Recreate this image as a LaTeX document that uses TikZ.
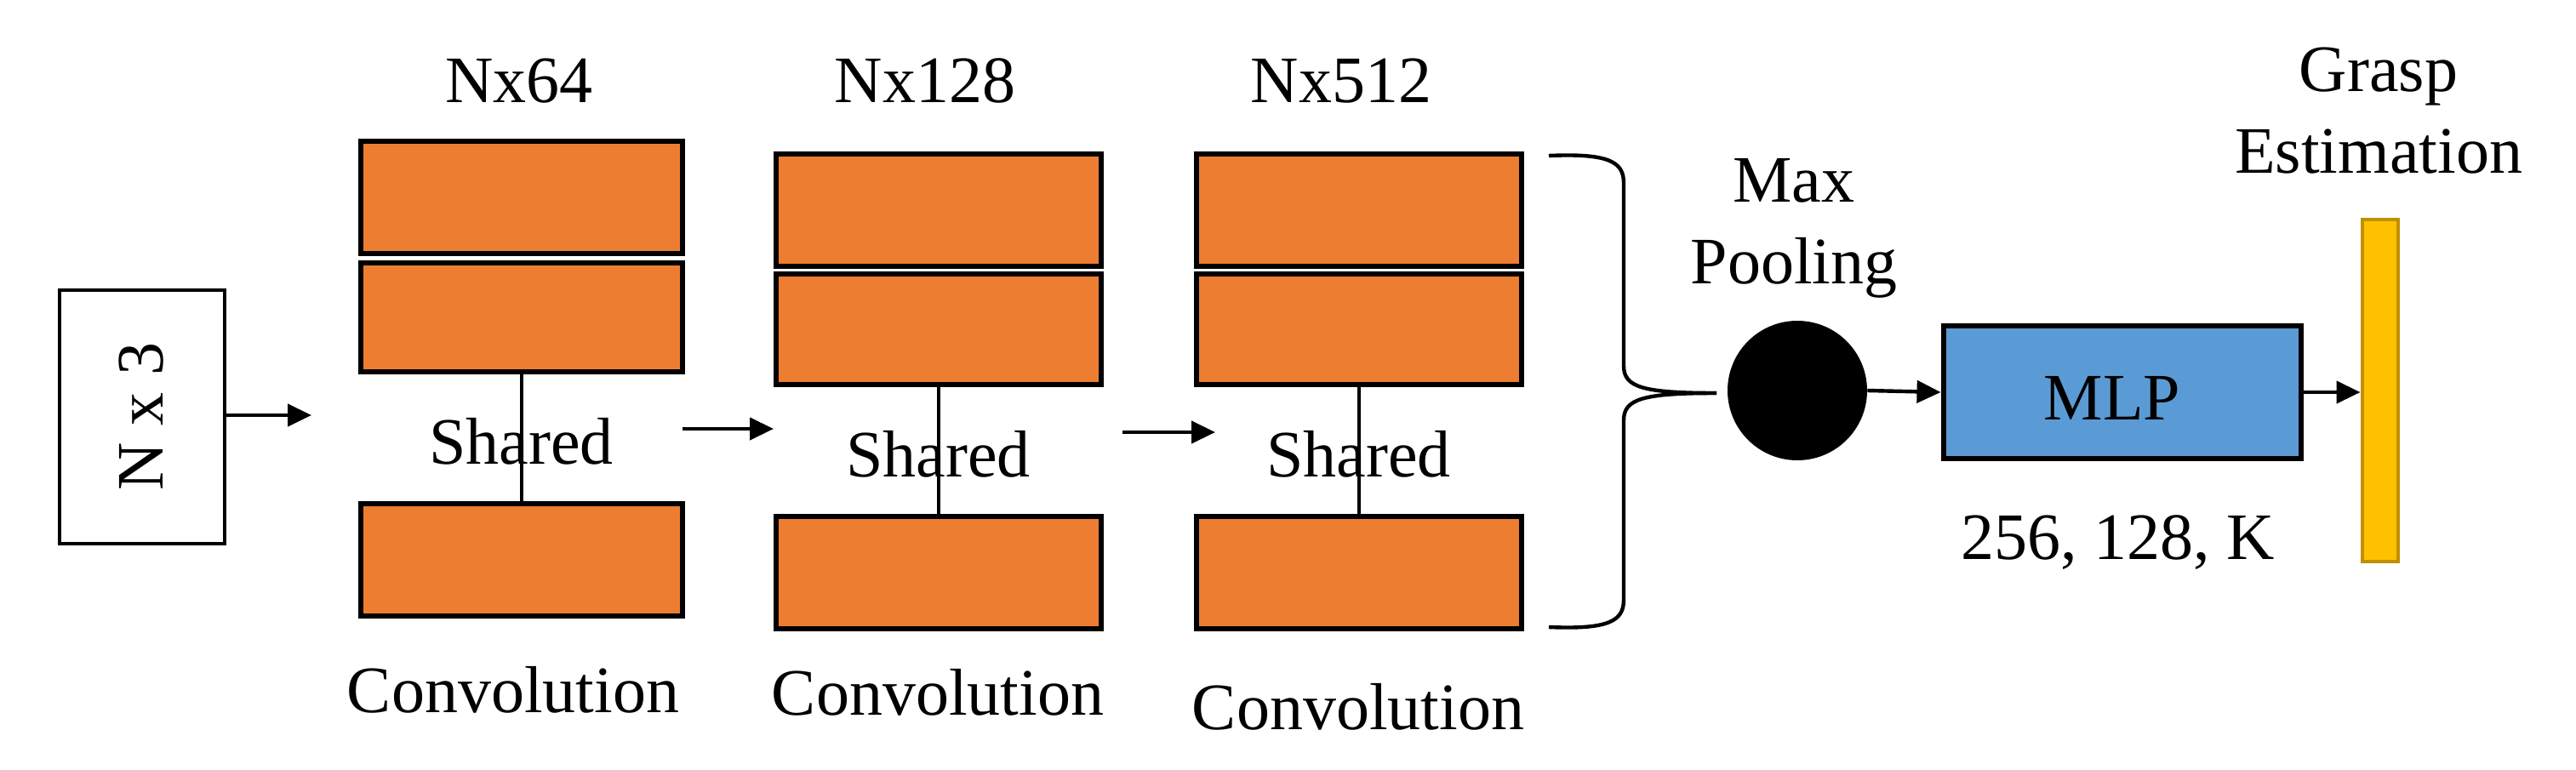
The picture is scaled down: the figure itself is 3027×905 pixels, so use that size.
\documentclass[tikz,border=0pt]{standalone}
\usepackage{fontspec}
\setmainfont{Liberation Serif}
\usetikzlibrary{arrows.meta}
\definecolor{org}{HTML}{ED7D31}
\definecolor{blu}{HTML}{5B9BD5}
\definecolor{yel}{HTML}{FFC000}
\definecolor{yelb}{HTML}{BF9000}
\begin{document}
\begin{tikzpicture}[x=0.5pt,y=-0.5pt,
  lbl/.style={font=\fontsize{39}{44}\selectfont, inner sep=0pt, align=center},
  blk/.style={draw, fill=org, line width=3pt, inner sep=0pt, outer sep=0pt},
  arr/.style={line width=2.2pt, -{Triangle[length=14pt,width=13pt]}},
  con/.style={line width=2pt}]
\useasboundingbox (0,0) rectangle (3027,905);
% input
\node[draw, line width=2pt, minimum width=97pt, minimum height=149pt, inner sep=0pt] (in) at (166.5,489.5) {};
\node[lbl, rotate=90] (intxt) at (166.5,489.5) {N x 3};
% block 1
\node[blk, minimum width=189pt, minimum height=66pt] (a1) at (612.5,232) {};
\node[blk, minimum width=189pt, minimum height=64pt] (a2) at (612.5,372.5) {};
\node[blk, minimum width=189pt, minimum height=66pt] (a3) at (612.5,657.5) {};
\draw[con] (a2.south) -- (a3.north);
\node[lbl] (s1) at (612.5,519) {Shared};
\node[lbl] (t1) at (610,95) {Nx64};
\node[lbl] (c1) at (603,811) {Convolution};
% block 2
\node[blk, minimum width=191pt, minimum height=66pt] (b1) at (1102.5,247) {};
\node[blk, minimum width=191pt, minimum height=65pt] (b2) at (1102.5,387) {};
\node[blk, minimum width=191pt, minimum height=66pt] (b3) at (1102.5,672.5) {};
\draw[con] (b2.south) -- (b3.north);
\node[lbl] (s2) at (1102.5,534) {Shared};
\node[lbl] (t2) at (1087,95) {Nx128};
\node[lbl] (c2) at (1102,814) {Convolution};
% block 3
\node[blk, minimum width=191pt, minimum height=66pt] (d1) at (1596.5,247) {};
\node[blk, minimum width=191pt, minimum height=65pt] (d2) at (1596.5,387) {};
\node[blk, minimum width=191pt, minimum height=66pt] (d3) at (1596.5,672.5) {};
\draw[con] (d2.south) -- (d3.north);
\node[lbl] (s3) at (1596.5,534) {Shared};
\node[lbl] (t3) at (1576,95) {Nx512};
\node[lbl] (c3) at (1596,831) {Convolution};
% arrows between blocks
\coordinate (p1) at (264,488);
\coordinate (p2) at (366,488);
\draw[arr] (in.east |- p1) -- (p2);
\coordinate (q1) at (802,504);
\coordinate (q2) at (909,504);
\draw[arr] (q1) -- (q2);
\coordinate (r1) at (1319,508);
\coordinate (r2) at (1428,508);
\draw[arr] (r1) -- (r2);
% brace
\draw[line width=2.2pt] (1820,183) .. controls (1890,180) and (1908,190) .. (1908,215)
  -- (1908,430) .. controls (1908,455) and (1930,462) .. (2017,462);
\draw[line width=2.2pt] (1820,737) .. controls (1890,740) and (1908,730) .. (1908,705)
  -- (1908,494) .. controls (1908,469) and (1930,462) .. (2017,462);
% max pooling
\node[circle, fill=black, minimum size=82pt, inner sep=0pt] (mp) at (2112,459) {};
\node[lbl] (mpt) at (2108,268) {Max\\[4pt]Pooling};
% MLP
\node[draw, fill=blu, line width=3pt, minimum width=210pt, minimum height=78pt, inner sep=0pt] (mlp) at (2493.5,461) {};
\node[lbl] (mlpt) at (2482,468) {MLP};
\node[lbl] (nums) at (2489,638) {256, 128, K};
\draw[arr] (mp.east) -- (mlp.west);
% output bar
\node[draw=yelb, fill=yel, line width=2pt, minimum width=21pt, minimum height=201pt, inner sep=0pt] (bar) at (2796.5,459) {};
\node[lbl] (gt) at (2795,130) {Grasp\\[4pt]Estimation};
\draw[arr] (mlp.east) -- (bar.west |- mlp.east);
\end{tikzpicture}
\end{document}
